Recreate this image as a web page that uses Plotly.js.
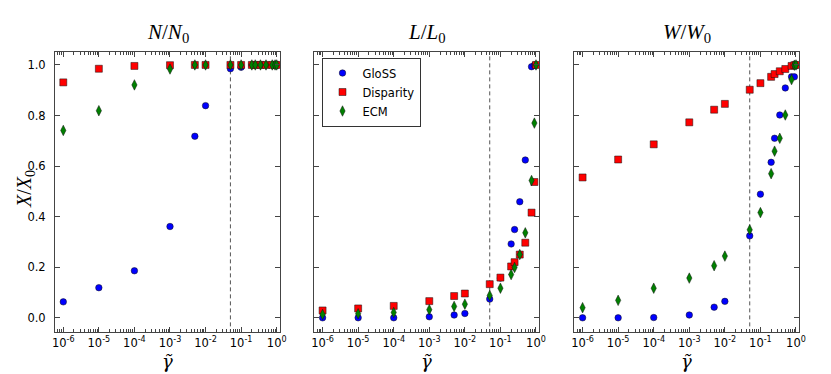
<!DOCTYPE html>
<html><head><meta charset="utf-8">
<script src="https://cdn.plot.ly/plotly-3.0.1.min.js"></script>
<style>html,body{margin:0;padding:0;background:#fff;}</style>
</head><body>
<div id="chart" style="width:831px;height:374px;"></div>
<script>
const gamma = [1e-6,1e-5,1e-4,1e-3,5e-3,1e-2,0.05,0.1,0.2,0.25,0.35,0.5,0.75,0.9,1.0];
const threshold = 0.05;
const panelTitles = ['<i>N</i>/<i>N</i><sub>0</sub>','<i>L</i>/<i>L</i><sub>0</sub>','<i>W</i>/<i>W</i><sub>0</sub>'];
const seriesNames = ['GloSS','Disparity','ECM'];
const xLabel = '<i>\u03B3\u0303</i>';
const yTicks = [0,0.2,0.4,0.6,0.8,1.0];
const xTicks = [1e-6,1e-5,1e-4,1e-3,1e-2,1e-1,1];
const xTickText = ['10<sup>-6</sup>','10<sup>-5</sup>','10<sup>-4</sup>','10<sup>-3</sup>','10<sup>-2</sup>','10<sup>-1</sup>','10<sup>0</sup>'];

const glossN = [0.063,0.119,0.186,0.361,0.718,0.839,0.985,0.991,1,1,1,1,1,1,1];
const dispN  = [0.931,0.985,0.996,0.999,1,1,1,1,1,1,1,1,1,1,1];
const ecmN   = [0.741,0.819,0.921,0.984,1,1,1,1,1,1,1,1,1,1,1];

const glossL = [0.0,0.0,0.0,0.004,0.011,0.017,0.074,0.157,0.292,0.349,0.459,0.624,0.993,0.999,1.0];
const dispL  = [0.029,0.037,0.047,0.066,0.086,0.096,0.133,0.159,0.203,0.220,0.250,0.297,0.416,0.537,1.0];
const ecmL   = [0.013,0.016,0.021,0.032,0.045,0.054,0.088,0.117,0.171,0.199,0.250,0.336,0.543,0.770,1.0];

const glossW = [0.0,0.0,0.001,0.011,0.042,0.065,0.324,0.489,0.615,0.710,0.802,0.909,0.953,0.953,1.0];
const dispW  = [0.555,0.626,0.686,0.773,0.823,0.846,0.902,0.928,0.953,0.964,0.975,0.984,0.996,0.999,1.0];
const ecmW   = [0.040,0.069,0.117,0.157,0.206,0.244,0.348,0.416,0.570,0.659,0.710,0.802,0.942,0.999,1.0];

const panels = [[glossN,dispN,ecmN],[glossL,dispL,ecmL],[glossW,dispW,ecmW]];
const styles = [
  {symbol:'circle', color:'#0000ff', size:6.5},
  {symbol:'square', color:'#ff0000', size:7},
  {symbol:'diamond-tall', color:'#008000', size:7.5}
];

const W = 831, H = 374;
const px = [[55,280],[314.3,539.3],[574.3,799.3]];
const yTop = 52.3, yBot = 331.7;

const traces = [];
panels.forEach((p, i) => {
  const xa = i === 0 ? 'x' : 'x' + (i+1);
  const ya = i === 0 ? 'y' : 'y' + (i+1);
  traces.push({x:[threshold,threshold], y:[-0.2,1.2], xaxis:xa, yaxis:ya, mode:'lines',
    line:{color:'#555', width:1, dash:'4px,3px'}, showlegend:false, hoverinfo:'skip'});
  p.forEach((vals, k) => {
    traces.push({x:gamma, y:vals, xaxis:xa, yaxis:ya, mode:'markers', name:seriesNames[k],
      showlegend: i === 1, legendrank: k,
      marker:{symbol:styles[k].symbol, color:styles[k].color, size:styles[k].size,
        line:{color:'#111', width:0.5}}, cliponaxis:false});
  });
});

const layout = {
  width:W, height:H, margin:{l:0,r:0,t:0,b:0}, paper_bgcolor:'#fff', plot_bgcolor:'#fff',
  font:{family:'DejaVu Sans', size:11, color:'#000'},
  showlegend:true,
  legend:{x:321.5/W, y:1-57.5/H, xanchor:'left', yanchor:'top', bgcolor:'#fff',
    bordercolor:'#333', borderwidth:1, font:{family:'DejaVu Sans', size:11.5}, tracegroupgap:0},
  annotations:[], shapes:[]
};
const yr = [-0.055, 1.05];
const xr = [-6.233, 0.093];
for (let i = 0; i < 3; i++) {
  const s = i === 0 ? '' : String(i+1);
  layout['xaxis'+s] = {type:'log', range:xr, domain:[px[i][0]/W, px[i][1]/W], anchor:'y'+s,
    tickvals:xTicks, ticktext:xTickText, tickangle:0,
    ticks:'inside', ticklen:5, tickcolor:'#444', showline:true, linecolor:'#444', linewidth:1,
    mirror:'ticks', showgrid:false, zeroline:false,
    tickfont:{family:'DejaVu Sans', size:11.5},
    minor:{ticks:'inside', ticklen:2.5, tickcolor:'#444', dtick:'D1', showgrid:false}};
  layout['yaxis'+s] = {range:yr, domain:[1-yBot/H, 1-yTop/H], anchor:'x'+s,
    tickvals:yTicks, tickformat:'.1f', showticklabels: i === 0, ticklabelstandoff:6,
    ticks:'inside', ticklen:5, tickcolor:'#444', showline:true, linecolor:'#444', linewidth:1,
    mirror:'ticks', showgrid:false, zeroline:false,
    tickfont:{family:'DejaVu Sans', size:11.5}};
  const cx = (px[i][0]+px[i][1])/2/W;
  layout.annotations.push({text:panelTitles[i], xref:'paper', yref:'paper',
    x:cx, y:1-33/H, xanchor:'center', yanchor:'middle', showarrow:false,
    font:{family:'Liberation Serif', size:21}});
  layout.annotations.push({text:xLabel, xref:'paper', yref:'paper',
    x:cx, y:1-361/H, xanchor:'center', yanchor:'middle', showarrow:false,
    font:{family:'DejaVu Serif', size:18}});
}
layout.annotations.push({text:'<i>X</i>/<i>X</i><sub>0</sub>', xref:'paper', yref:'paper',
  x:25/W, y:1-189/H, xanchor:'center', yanchor:'middle', showarrow:false, textangle:-90,
  font:{family:'Liberation Serif', size:20}});

Plotly.newPlot('chart', traces, layout, {staticPlot:true, displayModeBar:false});
</script>
</body></html>
